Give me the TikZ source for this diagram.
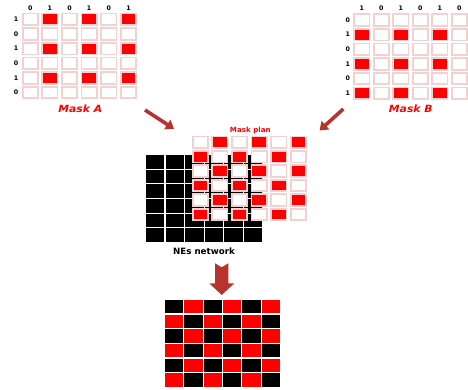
\documentclass[tikz,border=0pt]{standalone}
\usepackage{fontspec}
\setmainfont{DejaVu Sans}
\usetikzlibrary{arrows.meta}
\definecolor{pinkb}{RGB}{244,208,208}
\definecolor{arrred}{RGB}{185,50,45}
\definecolor{mred}{RGB}{255,0,0}
\begin{document}
\begin{tikzpicture}[x=1pt,y=-1pt,
  mcell/.style={draw=pinkb, line width=1.8pt, fill=white, minimum width=15.2pt, minimum height=11.5pt, inner sep=0pt, outer sep=0pt},
  bcell/.style={fill=black, minimum width=18.4pt, minimum height=13.6pt, inner sep=0pt, outer sep=0pt},
  rcell/.style={minimum width=18.3pt, minimum height=13.4pt, inner sep=0pt, outer sep=0pt},
  digit/.style={font=\bfseries\fontsize{6.3}{6.3}\selectfont, inner sep=0pt},
  masklabel/.style={font=\bfseries\itshape\fontsize{10.8}{12}\selectfont, text=mred, inner sep=0pt, anchor=base},
  diagarrow/.style={draw=arrred, line width=3.6pt, -{Triangle[length=8pt,width=11pt]}}
]
\useasboundingbox (0,0) rectangle (468,390);
\fill[white] (0,0) rectangle (468,390);

% ---------- Mask A ----------
\foreach \r in {1,...,6}{
  \foreach \c in {1,...,6}{
    \pgfmathtruncatemacro\isred{(mod(\r,2)==1 && mod(\c,2)==0) ? 1 : 0}
    \ifnum\isred=1 \def\cf{mred}\else\def\cf{white}\fi
    \node[mcell, fill=\cf] (A-\r-\c) at ({30.2+(\c-1)*19.66},{19.35+(\r-1)*14.66}) {};
  }
}
\foreach \c/\l in {1/0,2/1,3/0,4/1,5/0,6/1}
  \node[digit] (Ac\c) at ({30.2+(\c-1)*19.66},8) {\l};
\foreach \r/\l in {1/1,2/0,3/1,4/0,5/1,6/0}
  \node[digit] (Ar\r) at (16,{19.35+(\r-1)*14.66}) {\l};
\node[masklabel] (maskA) at (80.3,113) {\scalebox{1.0}[0.92]{Mask A}};

% ---------- Mask B ----------
\foreach \r in {1,...,6}{
  \foreach \c in {1,...,6}{
    \pgfmathtruncatemacro\isred{(mod(\r,2)==0 && mod(\c,2)==1) ? 1 : 0}
    \ifnum\isred=1 \def\cf{mred}\else\def\cf{white}\fi
    \node[mcell, fill=\cf] (B-\r-\c) at ({361.8+(\c-1)*19.5},{20+(\r-1)*14.66}) {};
  }
}
\foreach \c/\l in {1/1,2/0,3/1,4/0,5/1,6/0}
  \node[digit] (Bc\c) at ({361.8+(\c-1)*19.5},8.3) {\l};
\foreach \r/\l in {1/0,2/1,3/0,4/1,5/0,6/1}
  \node[digit] (Br\r) at (347.7,{20+(\r-1)*14.66}) {\l};
\node[masklabel] (maskB) at (410.8,113) {\scalebox{1.0}[0.92]{Mask B}};

% ---------- NEs network (black grid) ----------
\foreach \r in {1,...,6}{
  \foreach \c in {1,...,6}{
    \node[bcell] (N-\r-\c) at ({155.2+(\c-1)*19.6},{161.8+(\r-1)*14.66}) {};
  }
}
\node[font=\bfseries\fontsize{8.7}{10}\selectfont, inner sep=0pt, anchor=base] (nes) at (204,254.3) {NEs network};

% ---------- Mask plan ----------
\foreach \r in {1,...,6}{
  \foreach \c in {1,...,6}{
    \pgfmathtruncatemacro\isred{mod(\r+\c,2)}
    \ifnum\isred=1 \def\cf{mred}\else\def\cf{white}\fi
    \node[mcell, fill=\cf] (P-\r-\c) at ({200.2+(\c-1)*19.66},{142.35+(\r-1)*14.4}) {};
  }
}
\node[font=\bfseries\fontsize{7.1}{8}\selectfont, text=mred, inner sep=0pt, anchor=base] (plan) at (250.3,133) {Mask plan};

% ---------- arrows ----------
\coordinate (aA) at (145,110);
\coordinate (aAt) at (174,128.8);
\coordinate (aB) at (343.3,109);
\coordinate (aBt) at (319.5,130.5);
\draw[diagarrow] (aA) -- (aAt);
\draw[diagarrow] (aB) -- (aBt);

\fill[arrred] (215,263.3) -- (221.7,267.3) -- (228.3,263.3) -- (228.3,283.3) -- (234.3,283.3)
  -- (221.7,295) -- (209.3,283.3) -- (215,283.3) -- cycle;

% ---------- result grid ----------
\foreach \r in {1,...,6}{
  \foreach \c in {1,...,6}{
    \pgfmathtruncatemacro\isred{mod(\r+\c,2)}
    \ifnum\isred=1 \def\cf{mred}\else\def\cf{black}\fi
    \node[rcell, fill=\cf] (R-\r-\c) at ({174.15+(\c-1)*19.34},{306.7+(\r-1)*14.66}) {};
  }
}
\end{tikzpicture}
\end{document}
